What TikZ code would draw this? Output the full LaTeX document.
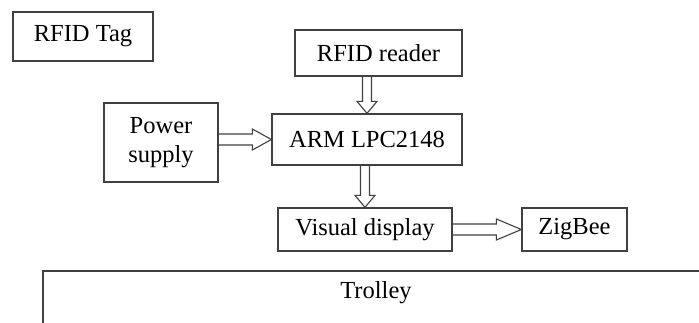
\documentclass[tikz,border=0pt]{standalone}
\usepackage{fontspec}
\setmainfont{Liberation Serif}
\usetikzlibrary{calc}
\definecolor{edge}{HTML}{404040}
\tikzset{
  blk/.style={draw=edge, line width=1.3pt, rectangle, inner sep=0pt, align=center,
    font=\fontsize{24.5}{29.5}\selectfont, text=black},
  harrow/.style={draw=edge, line width=1.1pt, line join=miter}
}
\newcommand\downblockarrow[2]{%
  \draw[harrow] ($(#2.north |- #1.south)+(-4.5,0)$) -- ($(#2.north)+(-4.5,-12)$)
    -- ($(#2.north)+(-10,-12)$) -- (#2.north) -- ($(#2.north)+(10,-12)$)
    -- ($(#2.north)+(4.5,-12)$) -- ($(#2.north |- #1.south)+(4.5,0)$);}
\newcommand\rightblockarrow[3]{%
  \draw[harrow] ($(#1.east |- #2.west)+(0,-5.5)$) -- ($(#2.west)+(-#3,-5.5)$)
    -- ($(#2.west)+(-#3,-10.5)$) -- (#2.west) -- ($(#2.west)+(-#3,10.5)$)
    -- ($(#2.west)+(-#3,5.5)$) -- ($(#1.east |- #2.west)+(0,5.5)$);}
\begin{document}
\begin{tikzpicture}[x=1pt,y=-1pt]
\useasboundingbox (0,0) rectangle (699,322);
\clip (0,0) rectangle (699,322);
\fill[white] (0,0) rectangle (699,322);
\node[blk, minimum width=140pt, minimum height=49pt] (tag) at (83,36.5) {RFID Tag};
\node[blk, minimum width=167pt, minimum height=46pt] (reader) at (378.5,53) {RFID reader};
\node[blk, minimum width=114pt, minimum height=79pt] (power) at (161,142.5) {Power\\supply};
\node[blk, minimum width=190pt, minimum height=51pt] (arm) at (367,139.5) {ARM LPC2148};
\node[blk, minimum width=174pt, minimum height=43pt] (visual) at (365,229.5) {Visual display};
\node[blk, minimum width=105pt, minimum height=43pt] (zigbee) at (574.5,229.5) {ZigBee};
\coordinate (trolleyNW) at (43,271);
\coordinate (trolleySE) at (709,340);
\draw[draw=edge, line width=1.3pt] (trolleyNW |- trolleySE) -- (trolleyNW) -- (trolleyNW -| trolleySE);
\node[font=\fontsize{24.5}{29.5}\selectfont, inner sep=0pt, anchor=base] (trolley) at (376,298) {Trolley};
\downblockarrow{reader}{arm}
\downblockarrow{arm}{visual}
\rightblockarrow{power}{arm}{19}
\rightblockarrow{visual}{zigbee}{25}
\end{tikzpicture}
\end{document}
